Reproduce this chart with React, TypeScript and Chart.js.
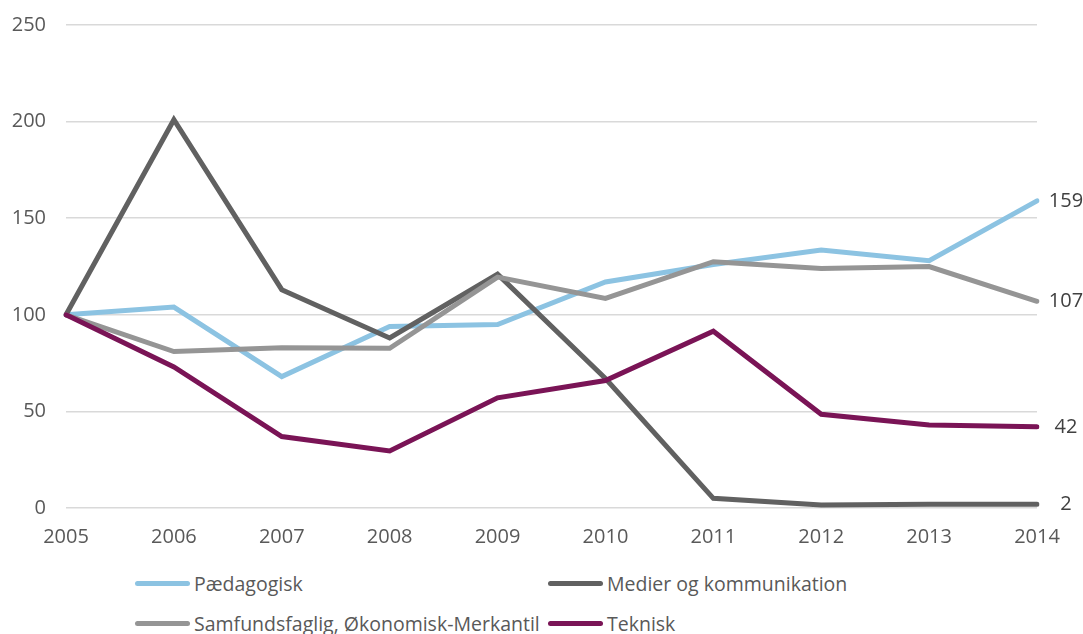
import React, { useEffect, useRef } from 'react';
import { Chart, registerables } from 'chart.js';

Chart.register(...registerables);

const years = ['2005', '2006', '2007', '2008', '2009', '2010', '2011', '2012', '2013', '2014'];
const paedagogisk = [100, 104, 68, 94, 95, 117, 126, 133.5, 128, 159];
const medier = [100, 201, 113, 88, 121, 67, 5, 1.5, 2, 2];
const samfund = [100, 81, 83, 82.7, 119.5, 108.5, 127.5, 124, 125, 107];
const teknisk = [100, 73, 37, 29.5, 57, 66, 91.5, 48.5, 43, 42];
const endLabels = ['159', '2', '107', '42'];
const seriesNames = ['Pædagogisk', 'Medier og kommunikation', 'Samfundsfaglig, Økonomisk-Merkantil', 'Teknisk'];
const seriesColors = ['#8cc3e2', '#616161', '#959595', '#7a1456'];
const yTicks = [0, 50, 100, 150, 200, 250];

const FONT = "'Open Sans', 'Noto Sans', sans-serif";
const TEXT = '#595959';

const endLabelPlugin = {
  id: 'endLabels',
  afterDatasetsDraw(chart: any) {
    const ctx = chart.ctx;
    ctx.save();
    ctx.font = `20px ${FONT}`;
    ctx.fillStyle = '#404040';
    ctx.textAlign = 'center';
    ctx.textBaseline = 'middle';
    chart.data.datasets.forEach((ds: any, i: number) => {
      const meta = chart.getDatasetMeta(i);
      const pt = meta.data[meta.data.length - 1];
      if (!pt) return;
      ctx.fillText(endLabels[i], pt.x + 29, pt.y);
    });
    ctx.restore();
  },
};

export default function App() {
  const ref = useRef<HTMLCanvasElement | null>(null);

  useEffect(() => {
    if (!ref.current) return;
    const seriesData = [paedagogisk, medier, samfund, teknisk];
    const orders = [3, 2, 1, 0];
    const chart = new Chart(ref.current, {
      type: 'line',
      data: {
        labels: years,
        datasets: seriesData.map((d, i) => ({
          label: seriesNames[i],
          data: d,
          borderColor: seriesColors[i],
          backgroundColor: seriesColors[i],
          borderWidth: 5,
          pointRadius: 0,
          pointHoverRadius: 0,
          tension: 0,
          borderCapStyle: 'round' as const,
          borderJoinStyle: 'miter' as const,
          fill: false,
          order: orders[i],
        })),
      },
      options: {
        responsive: false,
        animation: false,
        events: [],
        layout: { padding: { left: 0, right: 46, top: 25, bottom: 0 } },
        plugins: {
          legend: { display: false },
          tooltip: { enabled: false },
        },
        scales: {
          x: {
            grid: { display: false },
            border: { display: false },
            ticks: {
              color: TEXT,
              font: { family: FONT, size: 20 },
              padding: 9,
              maxRotation: 0,
              autoSkip: false,
            },
            afterFit(scale: any) {
              scale.height = 42;
            },
          },
          y: {
            min: 0,
            max: 250,
            afterBuildTicks(scale: any) {
              scale.ticks = yTicks.map((v) => ({ value: v }));
            },
            grid: { color: '#d9d9d9', lineWidth: 1.5, drawTicks: false },
            border: { display: false },
            ticks: {
              color: TEXT,
              font: { family: FONT, size: 20 },
              padding: 20,
            },
            afterFit(scale: any) {
              scale.width = 66;
              scale.paddingTop = 0;
              scale.paddingBottom = 0;
            },
          },
        },
      },
      plugins: [endLabelPlugin],
    });
    return () => chart.destroy();
  }, []);

  const legendPos = [
    { left: 135, top: 583 },
    { left: 548, top: 583 },
    { left: 135, top: 623 },
    { left: 548, top: 623 },
  ];

  return (
    <div style={{ position: 'absolute', left: 0, top: 0, width: 1083, height: 634, background: '#fff', overflow: 'hidden' }}>
      <canvas ref={ref} width={1083} height={550} style={{ display: 'block', width: 1083, height: 550 }} />
      {seriesNames.map((name, i) => (
        <div
          key={name}
          style={{
            position: 'absolute',
            left: legendPos[i].left,
            top: legendPos[i].top - 14,
            height: 28,
            display: 'flex',
            alignItems: 'center',
            whiteSpace: 'nowrap',
            fontFamily: FONT,
            fontSize: 19.5,
            color: TEXT,
          }}
        >
          <span
            style={{
              display: 'inline-block',
              width: 55,
              height: 5,
              borderRadius: 3,
              background: seriesColors[i],
              marginRight: 4,
            }}
          />
          <span>{name}</span>
        </div>
      ))}
    </div>
  );
}
